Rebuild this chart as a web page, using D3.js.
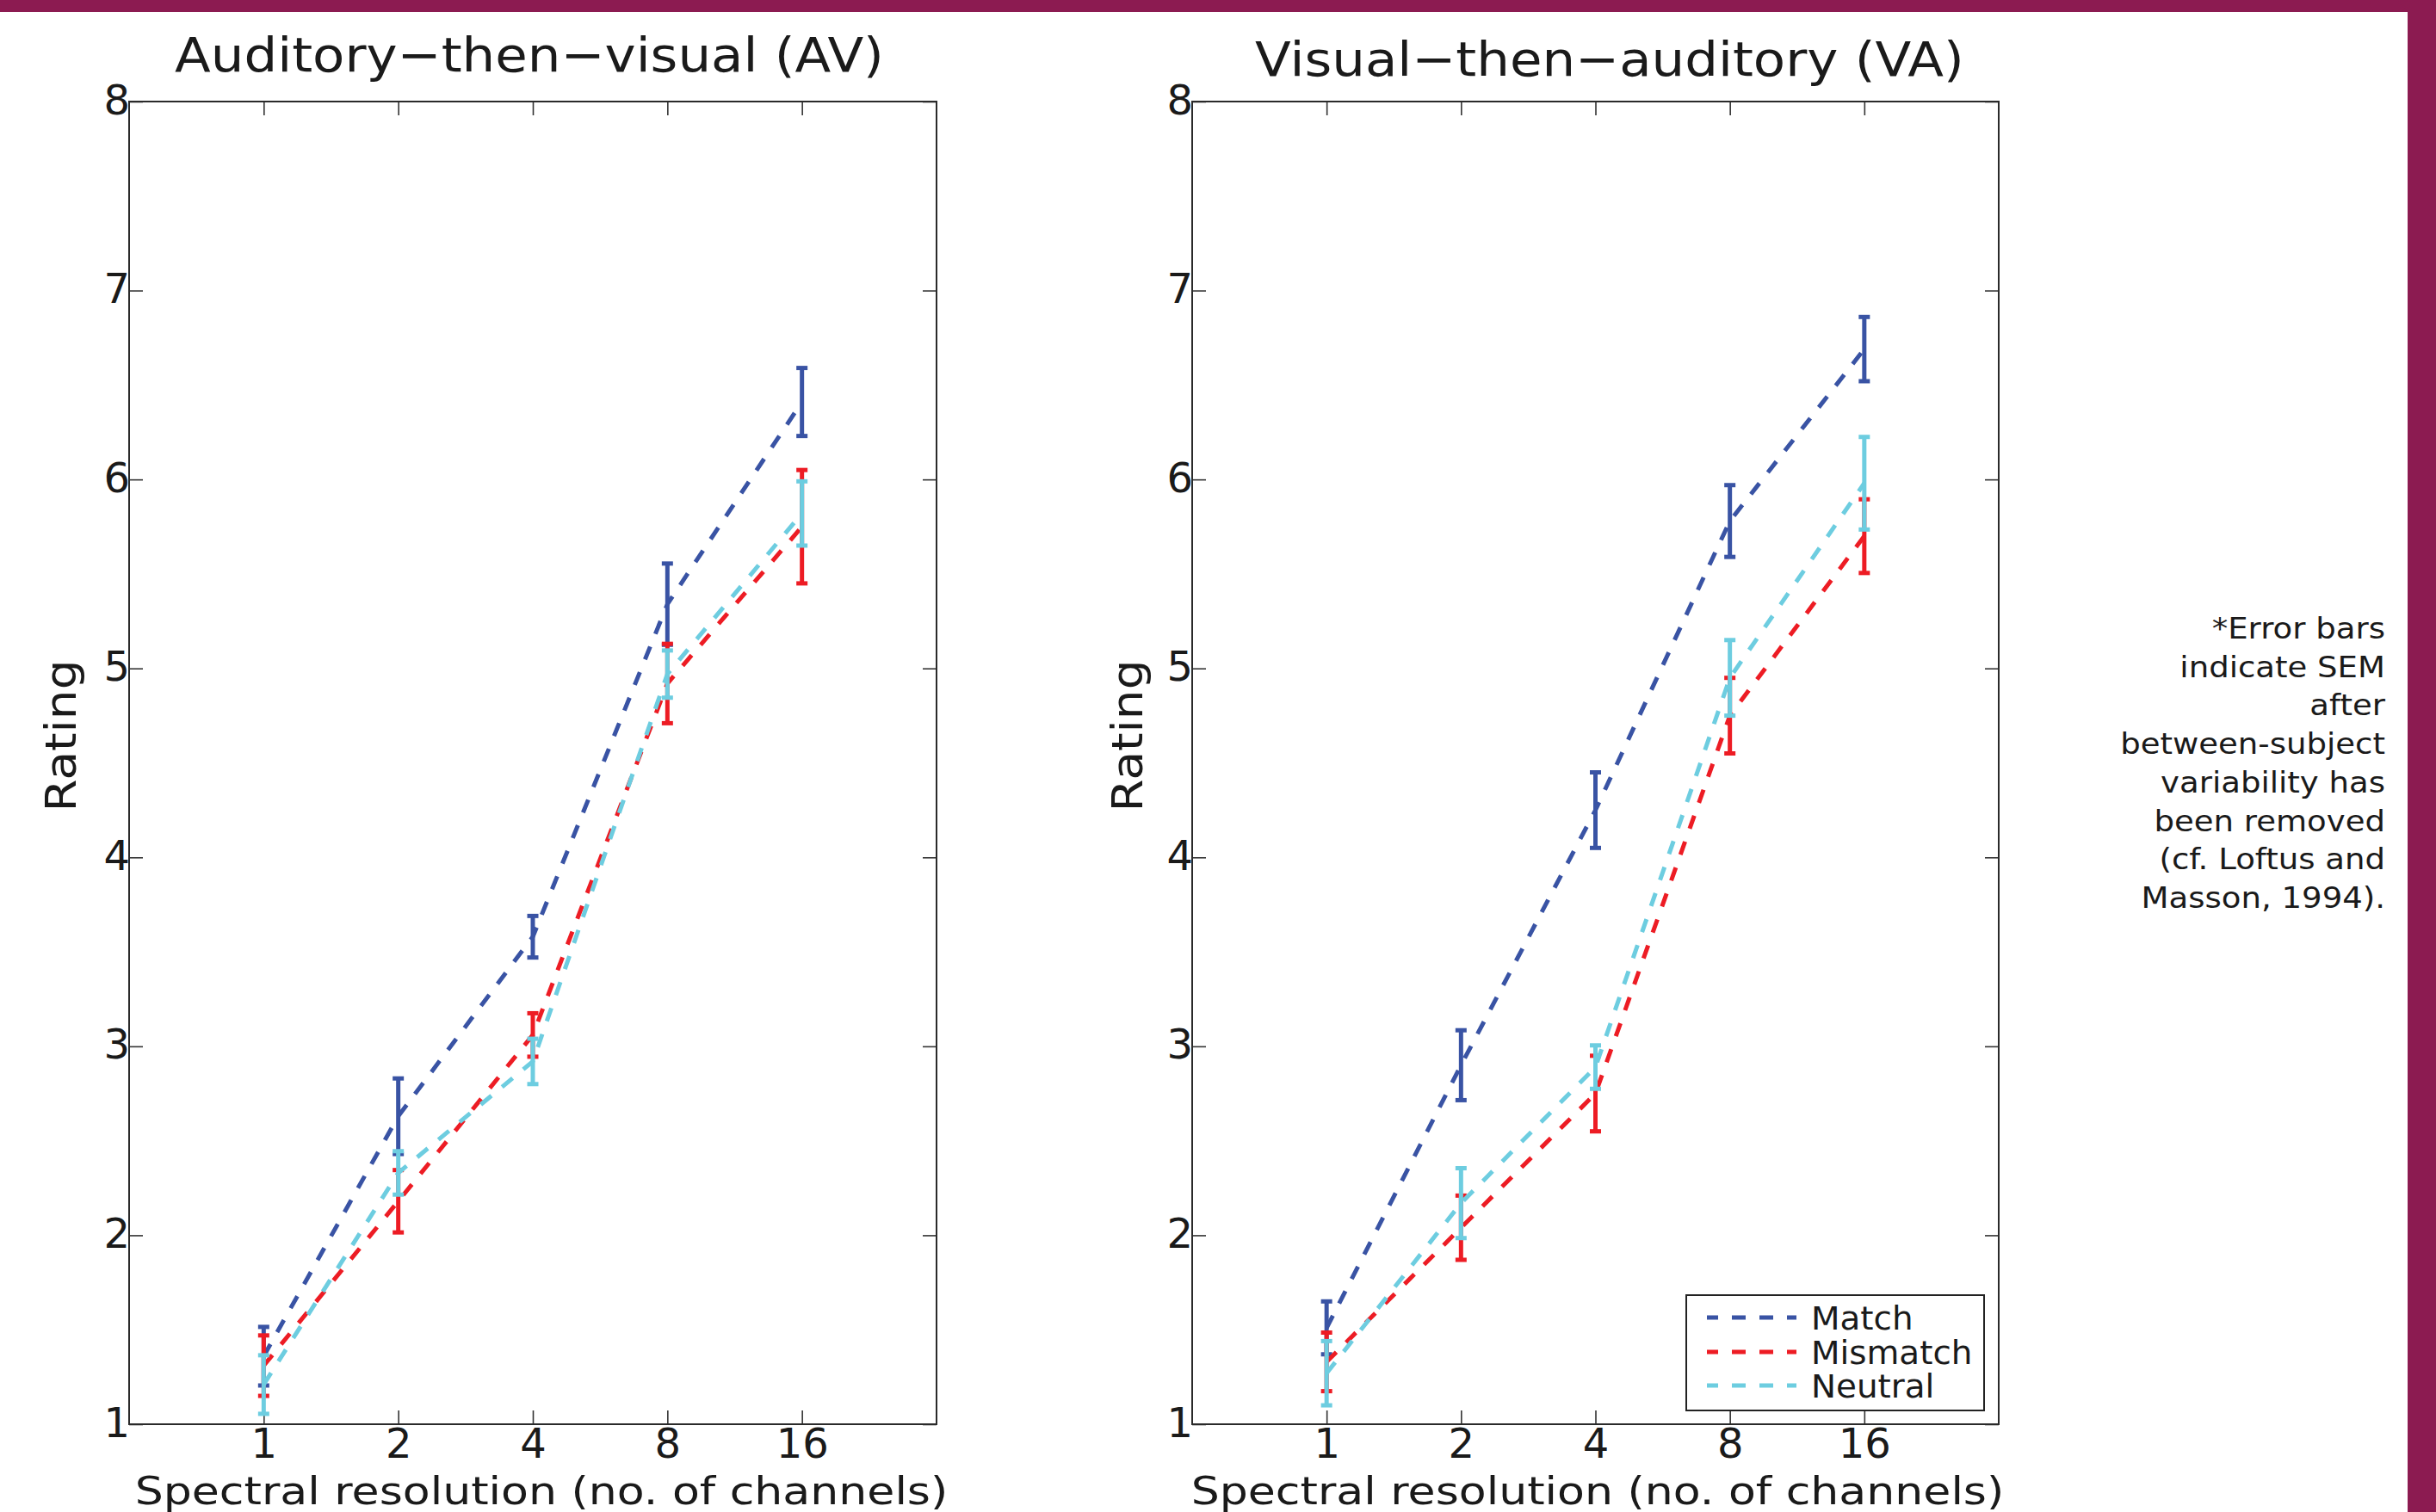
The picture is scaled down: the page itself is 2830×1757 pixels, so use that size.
<!DOCTYPE html>
<html>
<head>
<meta charset="utf-8">
<script src="https://cdn.jsdelivr.net/npm/d3@7/dist/d3.min.js"></script>
<style>
  html, body { margin: 0; padding: 0; background: #ffffff; }
  svg { display: block; }
  text { font-family: "DejaVu Sans", Verdana, sans-serif; fill: #1a1a1a; }
</style>
</head>
<body>
<svg id="chart" width="2830" height="1757"></svg>
<script>
// ---------------- DATA ----------------
const channels = [1, 2, 4, 8, 16];
const yTicks = [1, 2, 3, 4, 5, 6, 7, 8];
const seriesNames = ["Match", "Mismatch", "Neutral"];
const seriesColors = ["#3953a4", "#ed1c24", "#6dcde0"];

// Auditory-then-visual (AV)
const avMatch       = [1.36, 2.63, 3.58, 5.34, 6.41];
const avMatchErr    = [0.155, 0.20, 0.11, 0.215, 0.18];
const avMismatch    = [1.31, 2.18, 3.06, 4.92, 5.75];
const avMismatchErr = [0.16, 0.165, 0.115, 0.21, 0.30];
const avNeutral     = [1.21, 2.33, 2.92, 4.97, 5.82];
const avNeutralErr  = [0.155, 0.115, 0.12, 0.125, 0.17];

// Visual-then-auditory (VA)
const vaMatch       = [1.51, 2.90, 4.25, 5.78, 6.69];
const vaMatchErr    = [0.14, 0.185, 0.20, 0.19, 0.17];
const vaMismatch    = [1.33, 2.04, 2.75, 4.75, 5.70];
const vaMismatchErr = [0.155, 0.17, 0.20, 0.20, 0.195];
const vaNeutral     = [1.27, 2.17, 2.89, 4.95, 5.98];
const vaNeutralErr  = [0.17, 0.185, 0.115, 0.20, 0.245];

const panelTitles = ["Auditory\u2212then\u2212visual (AV)", "Visual\u2212then\u2212auditory (VA)"];
const xLabel = "Spectral resolution (no. of channels)";
const yLabel = "Rating";
const noteLines = ["*Error bars", "indicate SEM", "after", "between-subject",
                   "variability has", "been removed", "(cf. Loftus and", "Masson, 1994)."];

// ---------------- LAYOUT ----------------
const svg = d3.select("#chart");
const W = 2830, H = 1757;
const FONT = "'DejaVu Sans', Verdana, sans-serif";
const plotTop = 118, plotBottom = 1655;
const panels = [
  { left: 150, right: 1088, title: panelTitles[0], titleX: 615, titleY: 83,
    xlabX: 629, ylabX: 88,
    means: [avMatch, avMismatch, avNeutral], errs: [avMatchErr, avMismatchErr, avNeutralErr], legend: false },
  { left: 1385, right: 2322, title: panelTitles[1], titleX: 1870, titleY: 88,
    xlabX: 1856, ylabX: 1327,
    means: [vaMatch, vaMismatch, vaNeutral], errs: [vaMatchErr, vaMismatchErr, vaNeutralErr], legend: true }
];

// background + decorative frame
svg.append("rect").attr("width", W).attr("height", H).attr("fill", "#ffffff");
svg.append("rect").attr("x", 0).attr("y", 0).attr("width", W).attr("height", 14).attr("fill", "#8c1b51");
svg.append("rect").attr("x", 2797).attr("y", 0).attr("width", W - 2797).attr("height", H).attr("fill", "#8c1b51");

// helper: text with horizontal stretch to a target width
function addText(parent, str, opts) {
  const g = parent.append("g");
  const t = g.append("text")
    .attr("x", 0).attr("y", 0)
    .attr("text-anchor", opts.anchor || "start")
    .style("font-size", opts.size + "px")
    .style("font-family", FONT)
    .text(str);
  let sx = opts.sx || 1;
  if (opts.width) {
    const w = t.node().getComputedTextLength();
    if (w > 0) sx = opts.width / w;
  }
  const rot = opts.rotate ? ` rotate(${opts.rotate})` : "";
  g.attr("transform", `translate(${opts.x},${opts.y})${rot} scale(${sx},1)`);
  return { g, sx };
}

const yScale = d3.scaleLinear().domain([1, 8]).range([plotBottom, plotTop]);

panels.forEach((p) => {
  const xScale = d3.scaleLog().base(2).domain([0.5, 32]).range([p.left, p.right]);
  const g = svg.append("g");

  g.append("rect")
    .attr("x", p.left).attr("y", plotTop)
    .attr("width", p.right - p.left).attr("height", plotBottom - plotTop)
    .attr("fill", "#ffffff").attr("stroke", "none");

  // axes (inward ticks on all four sides)
  const axB = g.append("g").attr("transform", `translate(0,${plotBottom})`)
    .call(d3.axisBottom(xScale).tickValues(channels).tickFormat(d3.format("d")).tickSizeInner(-16).tickSizeOuter(0));
  const axT = g.append("g").attr("transform", `translate(0,${plotTop})`)
    .call(d3.axisTop(xScale).tickValues(channels).tickFormat("").tickSizeInner(-16).tickSizeOuter(0));
  const axL = g.append("g").attr("transform", `translate(${p.left},0)`)
    .call(d3.axisLeft(yScale).tickValues(yTicks).tickFormat(d3.format("d")).tickSizeInner(-16).tickSizeOuter(0));
  const axR = g.append("g").attr("transform", `translate(${p.right},0)`)
    .call(d3.axisRight(yScale).tickValues(yTicks).tickFormat("").tickSizeInner(-16).tickSizeOuter(0));

  [axB, axT, axL, axR].forEach(a => {
    a.select(".domain").remove();
    a.selectAll(".tick line").attr("stroke", "#333").attr("stroke-width", 1.6);
    a.selectAll(".tick text").style("font-family", FONT).style("font-size", "48px").attr("fill", "#1a1a1a");
  });
  axB.selectAll(".tick text").attr("y", 39).attr("dy", null);
  axL.selectAll(".tick text").attr("x", 1).attr("y", 14).attr("dy", null).attr("text-anchor", "end");

  // series: line + error bars, drawn in order
  const line = d3.line().x((d) => xScale(d.c)).y((d) => yScale(d.m));
  seriesNames.forEach((name, si) => {
    const pts = channels.map((c, i) => ({ c, m: p.means[si][i], e: p.errs[si][i] }));
    const col = seriesColors[si];
    g.append("path").datum(pts)
      .attr("d", line)
      .attr("fill", "none")
      .attr("stroke", col)
      .attr("stroke-width", 5)
      .attr("stroke-dasharray", "16,16");
    const eb = g.append("g").selectAll("g").data(pts).enter().append("g");
    eb.append("line")
      .attr("x1", d => xScale(d.c)).attr("x2", d => xScale(d.c))
      .attr("y1", d => yScale(d.m + d.e)).attr("y2", d => yScale(d.m - d.e))
      .attr("stroke", col).attr("stroke-width", 5);
    eb.append("line")
      .attr("x1", d => xScale(d.c) - 6.5).attr("x2", d => xScale(d.c) + 6.5)
      .attr("y1", d => yScale(d.m + d.e)).attr("y2", d => yScale(d.m + d.e))
      .attr("stroke", col).attr("stroke-width", 5);
    eb.append("line")
      .attr("x1", d => xScale(d.c) - 6.5).attr("x2", d => xScale(d.c) + 6.5)
      .attr("y1", d => yScale(d.m - d.e)).attr("y2", d => yScale(d.m - d.e))
      .attr("stroke", col).attr("stroke-width", 5);
  });

  // frame
  g.append("rect")
    .attr("x", p.left).attr("y", plotTop)
    .attr("width", p.right - p.left).attr("height", plotBottom - plotTop)
    .attr("fill", "none").attr("stroke", "#2a2a2a").attr("stroke-width", 2);

  // titles & labels
  addText(svg, p.title, { x: p.titleX, y: p.titleY, size: 56, anchor: "middle", width: 824 });
  addText(svg, xLabel, { x: p.xlabX, y: 1748, size: 45, anchor: "middle", width: 945 });
  addText(svg, yLabel, { x: p.ylabX, y: 855, size: 49, anchor: "middle", width: 177, rotate: -90 });

  // legend
  if (p.legend) {
    const lg = svg.append("g");
    lg.append("rect").attr("x", 1959).attr("y", 1505).attr("width", 346).attr("height", 134)
      .attr("fill", "#ffffff").attr("stroke", "#222").attr("stroke-width", 2);
    const rows = [1531, 1571, 1610];
    seriesNames.forEach((name, si) => {
      lg.append("line")
        .attr("x1", 1983).attr("x2", 2087).attr("y1", rows[si]).attr("y2", rows[si])
        .attr("stroke", seriesColors[si]).attr("stroke-width", 5)
        .attr("stroke-dasharray", "16,16").attr("stroke-dashoffset", 3);
      addText(lg, name, { x: 2104, y: rows[si] + 14, size: 37, anchor: "start", sx: 1.05 });
    });
  }
});

// annotation note (right aligned)
const noteG = svg.append("g");
const probe = noteG.append("text").style("font-size", "34px").style("font-family", FONT).text("between-subject");
const noteSx = 308 / probe.node().getComputedTextLength();
probe.remove();
noteLines.forEach((ln, i) => {
  addText(noteG, ln, { x: 2771, y: 742 + i * 44.7, size: 34, anchor: "end", sx: noteSx });
});
</script>
</body>
</html>
